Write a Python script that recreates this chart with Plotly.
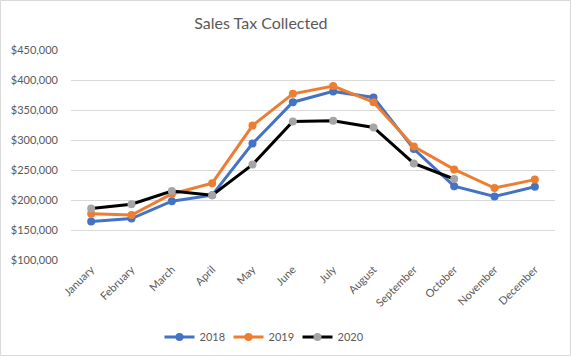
import plotly.graph_objects as go

months = ["January", "February", "March", "April", "May", "June", "July",
          "August", "September", "October", "November", "December"]
sales_2018 = [164000, 169000, 198000, 208000, 294000, 363000, 381000,
              371000, 285000, 223000, 206000, 222000]
sales_2019 = [177000, 175000, 210000, 228000, 324000, 377000, 390000,
              363000, 289000, 251000, 220000, 234000]
sales_2020 = [186000, 193000, 215000, 208000, 259000, 331000, 332000,
              321000, 261000, 235000]

FONT = "Lato, Open Sans, sans-serif"
GRAY_TXT = "#595959"

fig = go.Figure()
fig.add_trace(go.Scatter(x=months, y=sales_2018, name="2018", mode="lines+markers",
                         line=dict(color="#4472C4", width=3),
                         marker=dict(color="#4472C4", size=8)))
fig.add_trace(go.Scatter(x=months[:len(sales_2019)], y=sales_2019, name="2019", mode="lines+markers",
                         line=dict(color="#ED7D31", width=3),
                         marker=dict(color="#ED7D31", size=8)))
fig.add_trace(go.Scatter(x=months[:len(sales_2020)], y=sales_2020, name="2020", mode="lines+markers",
                         line=dict(color="#000000", width=3),
                         marker=dict(color="#A5A5A5", size=8)))

fig.update_layout(
    width=571, height=356,
    margin=dict(l=71, r=16, t=50, b=96, autoexpand=False),
    paper_bgcolor="white", plot_bgcolor="white",
    font=dict(family=FONT, color=GRAY_TXT, size=11),
    title=dict(text="Sales Tax Collected", x=0.457, xanchor="center",
               y=0.935, yanchor="middle",
               font=dict(size=16, color=GRAY_TXT, family=FONT)),
    showlegend=True,
    legend=dict(orientation="h", x=(263 - 71) / 484, xanchor="center",
                y=(260 - 337) / 210, yanchor="middle",
                font=dict(size=11, color=GRAY_TXT), itemwidth=30,
                entrywidth=24, tracegroupgap=0),
    xaxis=dict(type="category", categoryorder="array", categoryarray=months,
               range=[-0.5, 11.5], showgrid=False, zeroline=False, showline=False,
               tickangle=-45, ticks="", automargin=False,
               tickfont=dict(size=11, color=GRAY_TXT)),
    yaxis=dict(range=[100000, 450000], dtick=50000, tickformat="$,.0f",
               showgrid=True, gridcolor="#D9D9D9", gridwidth=1, zeroline=False,
               showline=False, ticks="", automargin=False, ticklabelstandoff=12,
               tickfont=dict(size=11, color=GRAY_TXT)),
    shapes=[dict(type="rect", xref="paper", yref="paper",
                 x0=(0.5 - 71) / 484, x1=(570.5 - 71) / 484,
                 y0=(260 - 355.5) / 210, y1=(260 - 0.5) / 210,
                 line=dict(color="#D9D9D9", width=1), fillcolor="rgba(0,0,0,0)",
                 layer="below")],
)

fig.write_html("out.html", config={"displayModeBar": False},
               post_script="document.body.style.margin='0';document.body.style.overflow='hidden';")
